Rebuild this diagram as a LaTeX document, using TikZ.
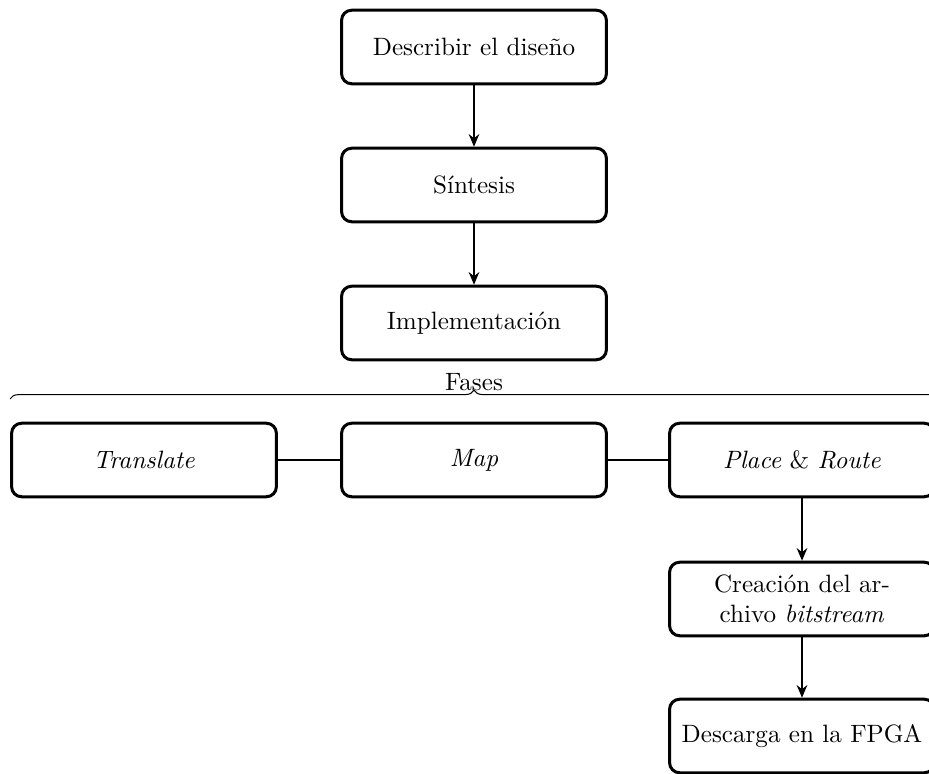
\documentclass[tikz,border=0pt]{standalone}
\usetikzlibrary{arrows.meta,decorations.pathreplacing}
\begin{document}
\begin{tikzpicture}[x=0.3984pt,y=-0.3984pt,
  stage/.style={draw,line width=1.2pt,rounded corners=4pt,
    minimum width=105.5pt,minimum height=29.3pt,inner sep=2pt,
    align=center,font=\normalsize},
  flow/.style={-{Stealth[length=5pt,width=4.2pt,inset=1.6pt]},line width=0.8pt},
  link/.style={line width=0.8pt}]
\useasboundingbox (0,0) rectangle (929,774);

% main column
\node[stage] (desc) at (474,47)  {Describir el diseño};
\node[stage] (sint) at (474,185) {Síntesis};
\node[stage] (impl) at (474,323) {Implementación};

% implementation phases
\node[stage] (trans) at (144,460) {\textit{Translate}};
\node[stage] (map)   at (474,460) {\textit{Map}};
\node[stage] (par)   at (802,460) {\textit{Place} \& \textit{Route}};

% final steps
\node[stage] (bit)  at (802,599) {Creación del ar-\\chivo \textit{bitstream}};
\node[stage] (fpga) at (802,736) {Descarga en la FPGA};

% brace grouping the phases
\coordinate (bl) at (10,399);
\coordinate (br) at (938,399);
\draw[line width=0.4pt,decorate,decoration={brace,amplitude=3.5pt}] (bl) -- (br)
  node[midway,above=2pt,inner sep=1pt] (fases) {Fases};

\draw[flow] (desc) -- (sint);
\draw[flow] (sint) -- (impl);
\draw[link] (trans) -- (map);
\draw[link] (map) -- (par);
\draw[flow] (par) -- (bit);
\draw[flow] (bit) -- (fpga);
\end{tikzpicture}
\end{document}
